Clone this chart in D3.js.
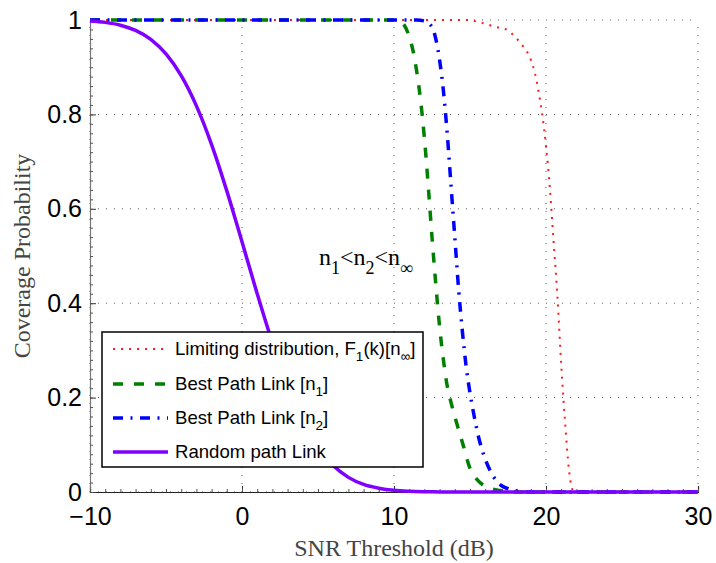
<!DOCTYPE html>
<html>
<head>
<meta charset="utf-8">
<script src="https://cdn.jsdelivr.net/npm/d3@7"></script>
<style>
  body { margin: 0; background: #fff; }
  svg { display: block; }
</style>
</head>
<body>
<svg width="716" height="563"></svg>
<script>
var svg = d3.select('svg');

// data
var snrRandom = [-10,-9,-8,-7,-6,-5,-4,-3,-2,-1,0,1,2,3,4,5,6,7,8,9,10,11,12,13,14,30];
var covRandom = [0.998,0.995,0.989,0.978,0.959,0.928,0.882,0.818,0.736,0.638,0.530,0.420,0.316,0.224,0.150,0.094,0.056,0.031,0.016,0.008,0.0035,0.0015,0.0006,0.0002,0,0];

var snrN1 = [-10,10,10.5,11,11.25,11.5,11.75,12,12.25,12.5,12.75,13,13.25,13.5,13.75,14,14.5,15,15.5,16,16.5,17,18,30];
var covN1 = [1,1,0.995,0.965,0.935,0.89,0.83,0.75,0.65,0.54,0.44,0.35,0.28,0.225,0.19,0.16,0.105,0.05,0.025,0.012,0.006,0.003,0,0];

var snrN2 = [-10,11.5,12,12.5,12.75,13,13.25,13.5,13.75,14,14.25,14.5,14.75,15,15.25,15.5,16,16.5,17,17.5,18,19,30];
var covN2 = [1,1,0.998,0.985,0.96,0.915,0.85,0.76,0.65,0.54,0.43,0.34,0.265,0.21,0.165,0.125,0.07,0.035,0.015,0.007,0.003,0,0];

var snrInf = [-10,15,15.5,16,16.5,17,17.5,18,18.5,19,19.25,19.5,19.75,20,20.25,20.5,20.75,21,21.25,21.5,21.6,21.75,22,30];
var covInf = [1,1,0.996,0.992,0.987,0.983,0.978,0.963,0.944,0.916,0.89,0.85,0.8,0.733,0.645,0.53,0.415,0.27,0.15,0.05,0.025,0.005,0,0];

var xTicks = [-10,0,10,20,30];
var xTickLabels = ['\u221210','0','10','20','30'];
var yTicks = [0,0.2,0.4,0.6,0.8,1];
var yTickLabels = ['0','0.2','0.4','0.6','0.8','1'];

var legendLabels = ['Limiting distribution', 'Best Path Link', 'Best Path Link', 'Random path Link'];

var plotL = 90, plotR = 698, plotT = 20, plotB = 492;

var x = d3.scaleLinear().domain([-10, 30]).range([plotL, plotR]);
var y = d3.scaleLinear().domain([0, 1]).range([plotB, plotT]);

svg.append('rect')
    .attr('width', '100%')
    .attr('height', '100%')
    .attr('fill', '#fff');

// dotted grid
var grid = svg.append('g');
grid.selectAll('.gx')
    .data(xTicks)
    .enter()
    .append('line')
    .attr('x1', function(d) { return x(d); })
    .attr('x2', function(d) { return x(d); })
    .attr('y1', plotB)
    .attr('y2', plotT)
    .attr('stroke', '#444')
    .attr('stroke-width', 0.9)
    .attr('stroke-dasharray', '1,7');
grid.selectAll('.gy')
    .data(yTicks)
    .enter()
    .append('line')
    .attr('x1', plotL)
    .attr('x2', plotR)
    .attr('y1', function(d) { return y(d); })
    .attr('y2', function(d) { return y(d); })
    .attr('stroke', '#444')
    .attr('stroke-width', 0.9)
    .attr('stroke-dasharray', '1,7');

// axes with inward ticks
var xAxis = d3.axisBottom(x).tickValues(xTicks).tickSize(-6).tickPadding(15)
    .tickFormat(function(d, i) { return xTickLabels[i]; });
var yAxis = d3.axisLeft(y).tickValues(yTicks).tickSize(-6).tickPadding(8)
    .tickFormat(function(d, i) { return yTickLabels[i]; });

var gx = svg.append('g').attr('transform', 'translate(0,' + plotB + ')').call(xAxis);
var gy = svg.append('g').attr('transform', 'translate(' + plotL + ',0)').call(yAxis);

// minor ticks
var gxm = svg.append('g').attr('transform', 'translate(0,' + plotB + ')')
    .call(d3.axisBottom(x).ticks(40).tickSize(-3).tickFormat(''));
var gym = svg.append('g').attr('transform', 'translate(' + plotL + ',0)')
    .call(d3.axisLeft(y).ticks(50).tickSize(-3).tickFormat(''));
gxm.select('.domain').remove();
gym.select('.domain').remove();
gxm.selectAll('line').attr('stroke', '#555');
gym.selectAll('line').attr('stroke', '#555');

gx.select('.domain').attr('stroke', '#222').attr('stroke-width', 1.2);
gy.select('.domain').attr('stroke', '#777').attr('stroke-width', 1.2);
gx.selectAll('.tick line').attr('stroke', '#333');
gy.selectAll('.tick line').attr('stroke', '#333');
[gx, gy].forEach(function(g) {
    g.selectAll('text')
        .attr('font-family', 'Liberation Sans, Arial, sans-serif')
        .attr('font-size', 25)
        .attr('fill', '#000');
});

// curves
var line = d3.line()
    .x(function(d) { return x(d[0]); })
    .y(function(d) { return y(d[1]); })
    .curve(d3.curveMonotoneX);

var series = [
    {xs: snrInf, ys: covInf, color: '#ff1a1a', width: 2, dash: '2,6'},
    {xs: snrN1, ys: covN1, color: '#008000', width: 3.5, dash: '10,11'},
    {xs: snrN2, ys: covN2, color: '#0000ff', width: 3.5, dash: '10,7.5,2,7.5'},
    {xs: snrRandom, ys: covRandom, color: '#7f00ff', width: 3.5, dash: null}
];

svg.append('g').selectAll('path')
    .data(series)
    .enter()
    .append('path')
    .attr('d', function(s) { return line(d3.zip(s.xs, s.ys)); })
    .attr('fill', 'none')
    .attr('stroke', function(s) { return s.color; })
    .attr('stroke-width', function(s) { return s.width; })
    .attr('stroke-dasharray', function(s) { return s.dash; });

// axis titles
svg.append('text')
    .attr('x', (plotL + plotR) / 2)
    .attr('y', 556)
    .attr('text-anchor', 'middle')
    .attr('font-family', 'Liberation Serif, Times New Roman, serif')
    .attr('font-size', 24)
    .attr('fill', '#444')
    .text('SNR Threshold (dB)');

svg.append('text')
    .attr('transform', 'translate(30,' + (plotT + plotB) / 2 + ') rotate(-90)')
    .attr('text-anchor', 'middle')
    .attr('font-family', 'Liberation Serif, Times New Roman, serif')
    .attr('font-size', 24)
    .attr('fill', '#444')
    .text('Coverage Probability');

// annotation n1<n2<n_inf
var ann = svg.append('text')
    .attr('x', 319)
    .attr('y', 265)
    .attr('font-family', 'Liberation Serif, Times New Roman, serif')
    .attr('font-size', 24)
    .attr('fill', '#000');
ann.append('tspan').text('n');
ann.append('tspan').attr('dy', 9).attr('font-size', 18).text('1');
ann.append('tspan').attr('dy', -9).text('<n');
ann.append('tspan').attr('dy', 9).attr('font-size', 18).text('2');
ann.append('tspan').attr('dy', -9).text('<n');
ann.append('tspan').attr('dy', 9).attr('font-size', 18).text('\u221e');

// legend
var leg = svg.append('g');
leg.append('rect')
    .attr('x', 102)
    .attr('y', 332)
    .attr('width', 321)
    .attr('height', 135)
    .attr('fill', '#fff')
    .attr('stroke', '#000')
    .attr('stroke-width', 1.5);

var rowY = [349, 384, 418, 452];
var subs = [['1', '(k)[n', '\u221e', ']'], ['1', ']'], ['2', ']'], null];
var heads = [legendLabels[0] + ', F', legendLabels[1] + ' [n', legendLabels[2] + ' [n', legendLabels[3]];

leg.selectAll('.sample')
    .data(series)
    .enter()
    .append('line')
    .attr('x1', 113)
    .attr('x2', 168)
    .attr('y1', function(d, i) { return rowY[i]; })
    .attr('y2', function(d, i) { return rowY[i]; })
    .attr('stroke', function(s) { return s.color; })
    .attr('stroke-width', function(s) { return s.width; })
    .attr('stroke-dasharray', function(s) { return s.dash; });

heads.forEach(function(h, i) {
    var t = leg.append('text')
        .attr('x', 175)
        .attr('y', rowY[i] + 6)
        .attr('font-family', 'Liberation Sans, Arial, sans-serif')
        .attr('font-size', 18.6)
        .attr('fill', '#000');
    t.append('tspan').text(h);
    var s = subs[i];
    if (s) {
        t.append('tspan').attr('dy', 6).attr('font-size', 13.5).text(s[0]);
        t.append('tspan').attr('dy', -6).text(s[1]);
        if (s.length > 2) {
            t.append('tspan').attr('dy', 6).attr('font-size', 13.5).text(s[2]);
            t.append('tspan').attr('dy', -6).text(s[3]);
        }
    }
});
</script>
</body>
</html>
